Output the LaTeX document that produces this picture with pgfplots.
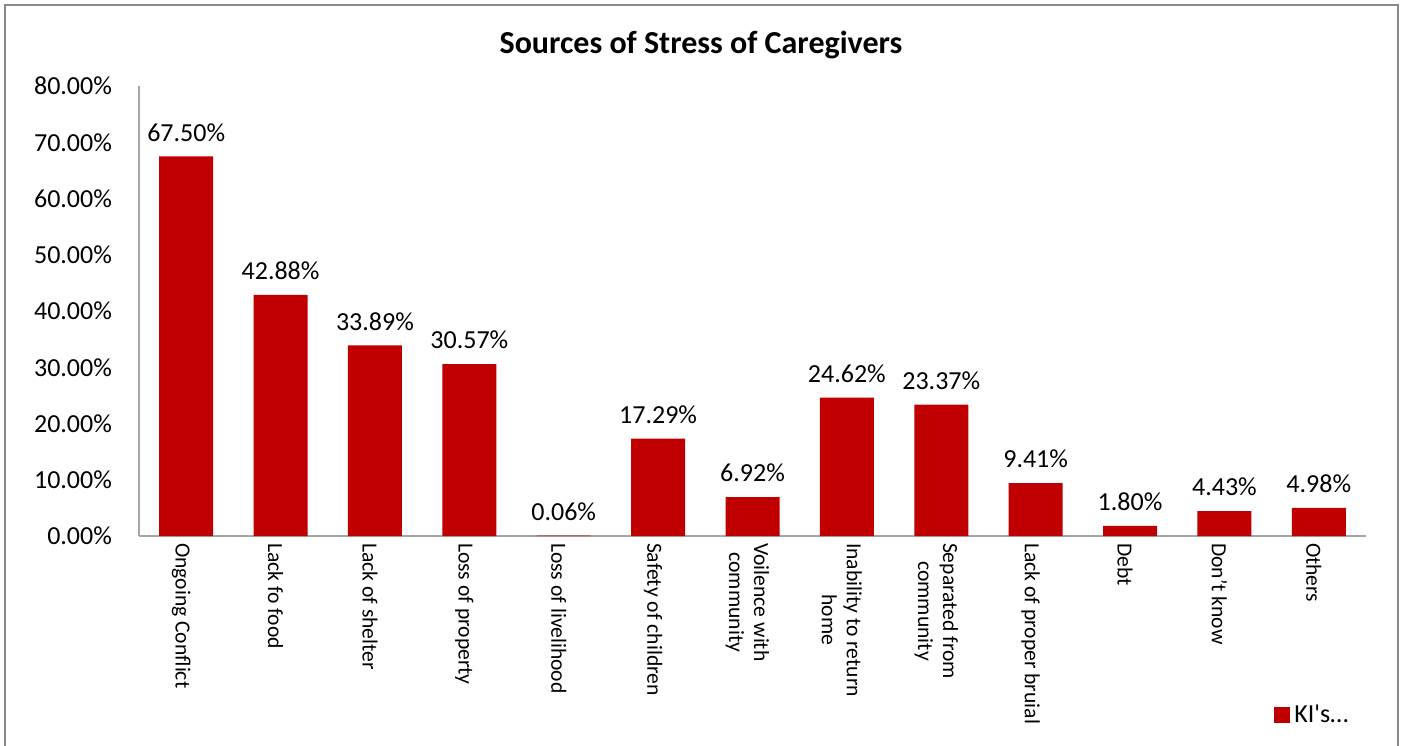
\documentclass[border=0pt]{standalone}
\usepackage{pgfplots}
\pgfplotsset{compat=1.18}
\usepackage{fontspec}
\setmainfont{Carlito}
\definecolor{barred}{HTML}{C00000}
\definecolor{axgray}{HTML}{A6A6A6}
\definecolor{framegray}{HTML}{898989}

\begin{document}
\begin{tikzpicture}
\useasboundingbox (0,0) rectangle (702pt,372.5pt);
\draw[framegray, line width=1pt] (2.5pt,-5pt) rectangle (699pt,370pt);
\node[font=\fontsize{16}{19}\selectfont\bfseries] at (350.5pt,350pt) {Sources of Stress of Caregivers};
\begin{axis}[
  at={(69.5pt,104.5pt)}, anchor=south west,
  scale only axis, width=613.5pt, height=225pt,
  ybar, bar width=27pt,
  xmin=-0.5, xmax=12.5, ymin=0, ymax=80,
  axis x line*=bottom, axis y line*=left,
  axis line style={axgray, line width=1pt},
  major tick length=0pt,
  xtick=data,
  xticklabels={Ongoing Conflict, Lack fo food, Lack of shelter, Loss of property,
    Loss of livelihood, Safety of children, {Voilence with\\community},
    {Inability to return\\home}, {Separated from\\community}, Lack of proper bruial,
    Debt, Don’t know, Others},
  xticklabel style={rotate=-90, anchor=west, align=center,
    font=\fontsize{10.8}{12.5}\selectfont, yshift=-2.5pt},
  ytick={0,10,...,80},
  yticklabel={\pgfmathprintnumber[fixed,zerofill,precision=2]{\tick}\%},
  yticklabel style={font=\fontsize{13}{15}\selectfont, xshift=-10pt},
  /pgf/number format/assume math mode=true,
  nodes near coords={\pgfmathprintnumber[fixed,zerofill,precision=2]{\pgfplotspointmeta}\%},
  nodes near coords style={font=\fontsize{13}{15}\selectfont, yshift=4pt,
    /pgf/number format/assume math mode=true},
  legend style={at={(0.957,-0.398)}, anchor=center, draw=none, fill=none,
    font=\fontsize{13}{15}\selectfont, inner sep=1pt},
  legend image code/.code={\fill[barred] (0pt,-4pt) rectangle (8pt,4pt);},
]
\addplot[fill=barred, draw=none] coordinates {
(0, 67.50)
(1, 42.88)
(2, 33.89)
(3, 30.57)
(4, 0.06)
(5, 17.29)
(6, 6.92)
(7, 24.62)
(8, 23.37)
(9, 9.41)
(10, 1.80)
(11, 4.43)
(12, 4.98)
};
\addlegendentry{KI\textquotesingle s…}
\end{axis}
\end{tikzpicture}
\end{document}
